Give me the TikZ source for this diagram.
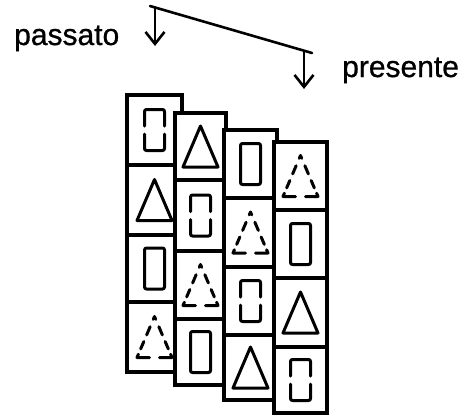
\documentclass[tikz,border=0pt]{standalone}
\usepackage{fontspec}
\setmainfont{Liberation Sans}
\newfontfamily\lblfont{Liberation Sans}[FakeBold=0.8]
\usetikzlibrary{arrows.meta,calc}
\begin{document}
\begin{tikzpicture}[x=1pt,y=-1pt,
  cell/.style={draw, fill=white, line width=3.4pt, inner sep=0pt, line join=miter},
  shp/.style={line width=3pt, line join=round, line cap=round},
  conn/.style={line width=2.6pt, line cap=round},
  arr/.style={line width=2.6pt, line cap=round, -{Straight Barb[length=12pt,width=19pt,line width=2.6pt]}},
  lbl/.style={font=\lblfont\fontsize{30}{36}\selectfont, inner sep=0pt},
  tri/.pic={\draw[shp] (0,-20.5) -- (-17.5,20.5) -- (17.5,20.5) -- cycle;},
  rbox/.pic={\draw[shp, rounded corners=2pt] (-10,-20.5) rectangle (10,20.5);},
  drbox/.pic={
    \draw[shp, rounded corners=2pt] (-10,-4) -- (-10,-20.5) -- (10,-20.5) -- (10,-4);
    \draw[shp, rounded corners=2pt] (-10,4) -- (-10,20.5) -- (10,20.5) -- (10,4);},
  dtri/.pic={
    \draw[shp] ($(0,-20.5)!0.07!(-17.5,20.5)$) -- (0,-20.5) -- ($(0,-20.5)!0.07!(17.5,20.5)$);
    \draw[shp] ($(0,-20.5)!0.25!(-17.5,20.5)$) -- ($(0,-20.5)!0.45!(-17.5,20.5)$);
    \draw[shp] ($(0,-20.5)!0.61!(-17.5,20.5)$) -- ($(0,-20.5)!0.79!(-17.5,20.5)$);
    \draw[shp] ($(0,-20.5)!0.92!(-17.5,20.5)$) -- (-17.5,20.5) -- (-5,20.5);
    \draw[shp] ($(0,-20.5)!0.25!(17.5,20.5)$) -- ($(0,-20.5)!0.45!(17.5,20.5)$);
    \draw[shp] ($(0,-20.5)!0.61!(17.5,20.5)$) -- ($(0,-20.5)!0.79!(17.5,20.5)$);
    \draw[shp] ($(0,-20.5)!0.92!(17.5,20.5)$) -- (17.5,20.5) -- (5,20.5);}
]
\useasboundingbox (0,0) rectangle (469,416);

% labels
\node[lbl, anchor=base west] (pas) at (14,45) {passato};
\node[lbl, anchor=base west] (pre) at (342,77) {presente};

% timeline and arrows
\coordinate (l0) at (150,6);
\coordinate (l1) at (312,53);
\coordinate (a1s) at (155,7.5);
\coordinate (a1e) at (155,46);
\coordinate (a2s) at (304,51);
\coordinate (a2e) at (304,89);
\draw[conn] (l0) -- (l1);
\draw[arr] (a1s) -- (a1e);
\draw[arr] (a2s) -- (a2e);

% column 1
\node[cell, minimum width=55pt, minimum height=70pt] (c11) at (154.5,130) {};
\node[cell, minimum width=55pt, minimum height=70pt] (c12) at (154.5,200) {};
\node[cell, minimum width=55pt, minimum height=67pt] (c13) at (154.5,268.5) {};
\node[cell, minimum width=55pt, minimum height=70pt] (c14) at (154.5,337) {};
\pic at (c11) {drbox};
\pic at (c12) {tri};
\pic at (c13) {rbox};
\pic at (c14) {dtri};

% column 2
\node[cell, minimum width=51pt, minimum height=67pt] (c21) at (200.5,146.5) {};
\node[cell, minimum width=51pt, minimum height=71pt] (c22) at (200.5,215.5) {};
\node[cell, minimum width=51pt, minimum height=68pt] (c23) at (200.5,285) {};
\node[cell, minimum width=51pt, minimum height=66pt] (c24) at (200.5,352) {};
\pic at (c21) {tri};
\pic at (c22) {drbox};
\pic at (c23) {dtri};
\pic at (c24) {rbox};

% column 3
\node[cell, minimum width=53pt, minimum height=68pt] (c31) at (250.5,164) {};
\node[cell, minimum width=53pt, minimum height=69pt] (c32) at (250.5,232.5) {};
\node[cell, minimum width=53pt, minimum height=68pt] (c33) at (250.5,301) {};
\node[cell, minimum width=53pt, minimum height=65pt] (c34) at (250.5,367.5) {};
\pic at (c31) {rbox};
\pic at (c32) {dtri};
\pic at (c33) {drbox};
\pic at (c34) {tri};

% column 4
\node[cell, minimum width=53pt, minimum height=68pt] (c41) at (300.5,176) {};
\node[cell, minimum width=53pt, minimum height=68pt] (c42) at (300.5,244) {};
\node[cell, minimum width=53pt, minimum height=69pt] (c43) at (300.5,312.5) {};
\node[cell, minimum width=53pt, minimum height=66pt] (c44) at (300.5,380) {};
\pic at (c41) {dtri};
\pic at (c42) {rbox};
\pic at (c43) {tri};
\pic at (c44) {drbox};
\end{tikzpicture}
\end{document}
